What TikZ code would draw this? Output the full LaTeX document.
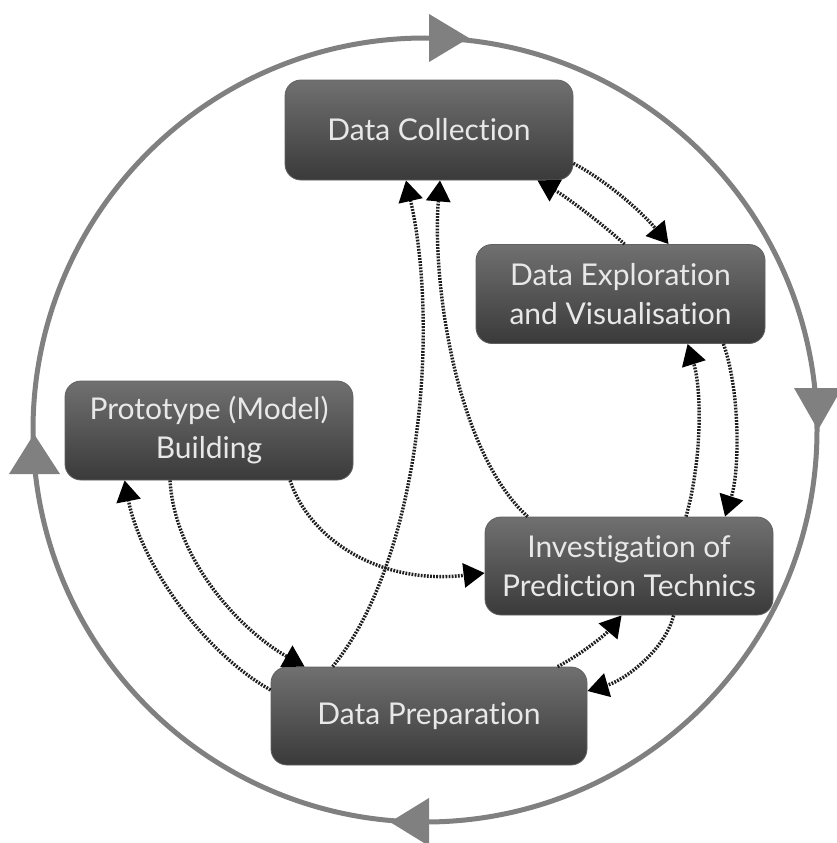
\documentclass[tikz,border=0pt]{standalone}
\usepackage{fontspec}
\setmainfont[Ligatures={NoCommon}]{Lato}
\usetikzlibrary{arrows.meta,calc}
\definecolor{boxtop}{RGB}{112,112,112}
\definecolor{boxbot}{RGB}{58,58,58}
\definecolor{boxtext}{RGB}{232,232,232}
\definecolor{ringgray}{RGB}{128,128,128}
\tikzset{
  stepbox/.style={rectangle, rounded corners=16pt, top color=boxtop, bottom color=boxbot,
    draw=boxbot!80!white, line width=0.8pt, text=boxtext, align=center,
    inner sep=0pt, font=\fontsize{30}{39}\selectfont},
  flow/.style={line width=3.4pt, draw=black!88, dash pattern=on 1.8pt off 1.3pt,
    -{Triangle[length=21pt,width=24pt,color=black]}},
  ring/.style={line width=5pt, draw=ringgray},
  ringtip/.style={fill=ringgray, draw=none}
}
\begin{document}
\begin{tikzpicture}[x=1pt,y=-1pt]
\useasboundingbox (0,0) rectangle (837,843);
\fill[white] (0,0) rectangle (837,843);
% outer ring
\draw[ring] (425,430) circle (392);
\fill[ringtip] (429,14) -- (429,62) -- (469,38) -- cycle;
\fill[ringtip] (794,388) -- (842,388) -- (818,430) -- cycle;
\fill[ringtip] (429,798) -- (429,846) -- (390,822) -- cycle;
\fill[ringtip] (9,474) -- (60,474) -- (34,434) -- cycle;
% boxes
\node[stepbox, minimum width=288pt, minimum height=100pt] (dc) at (429,130) {Data Collection};
\node[stepbox, minimum width=289pt, minimum height=99pt] (de) at (620.5,294) {Data Exploration\\and Visualisation};
\node[stepbox, minimum width=288pt, minimum height=99pt] (pr) at (209,430.5) {Prototype (Model)\\Building};
\node[stepbox, minimum width=288pt, minimum height=98pt] (inv) at (629,566) {Investigation of\\Prediction Technics};
\node[stepbox, minimum width=316pt, minimum height=98pt] (dp) at (429,716) {Data Preparation};
% connectors
\draw[flow] ($(dc.south east)+(0,-17)$) .. controls (605,180) and (640,210) .. ($(de.north west)+(193,0)$);
\draw[flow] ($(de.north west)+(149,0)$) .. controls (600,222) and (565,196) .. ($(dc.south east)+(-36,0)$);
\draw[flow] ($(de.south east)+(-42,0)$) .. controls (740,390) and (740,470) .. ($(inv.north)+(96,0)$);
\draw[flow] ($(inv.north)+(57,0)$) .. controls (702,460) and (702,390) .. ($(de.south west)+(212,0)$);
\draw[flow] ($(inv.north west)+(43,0)$) .. controls (455,450) and (432,280) .. ($(dc.south)+(11,0)$);
\draw[flow] ($(dp.north west)+(62,0)$) .. controls (420,560) and (440,330) .. ($(dc.south)+(-23,0)$);
\draw[flow] ($(pr.south)+(-39,0)$) .. controls (175,560) and (240,630) .. ($(dp.north west)+(34,0)$);
\draw[flow] ($(dp.west)+(0,-26)$) .. controls (200,650) and (140,560) .. ($(pr.south west)+(60,0)$);
\draw[flow] ($(pr.south)+(81,0)$) .. controls (310,540) and (380,585) .. ($(inv.west)+(0,7)$);
\draw[flow] ($(dp.north west)+(287,0)$) .. controls (580,655) and (605,635) .. ($(inv.south west)+(137,0)$);
\draw[flow] ($(inv.south west)+(189,0)$) .. controls (665,650) and (625,680) .. ($(dp.east)+(0,-25)$);
\end{tikzpicture}
\end{document}
